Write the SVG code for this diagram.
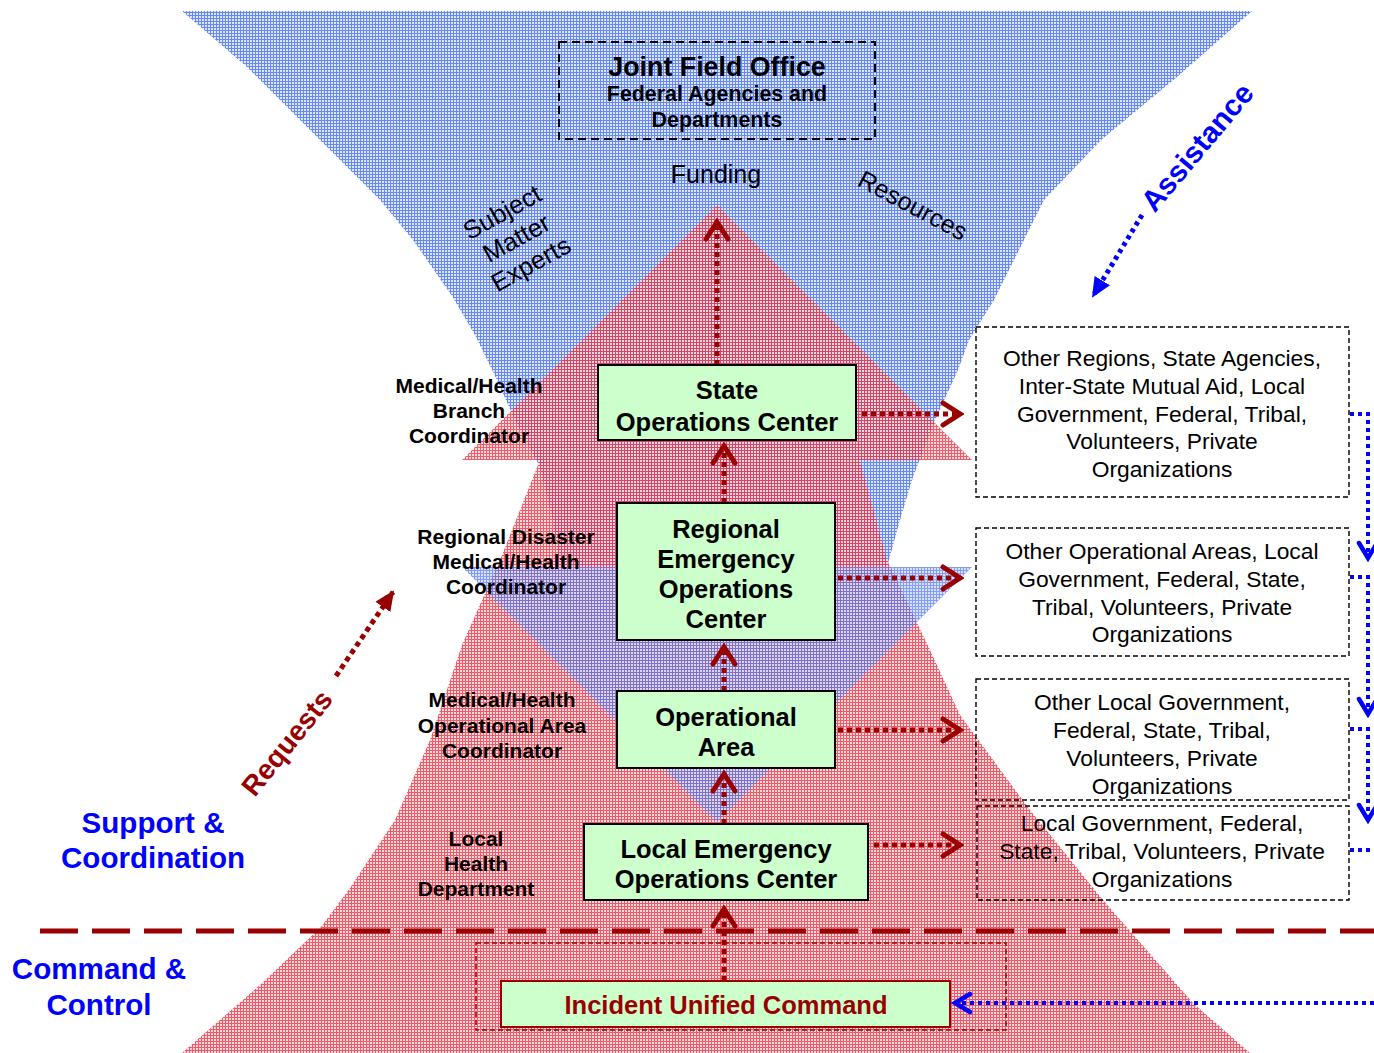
<svg xmlns="http://www.w3.org/2000/svg" width="1374" height="1053" viewBox="0 0 1374 1053">
<defs>
<pattern id="pb" width="3" height="3" patternUnits="userSpaceOnUse"><rect width="3" height="3" fill="#dde6fd"/><path d="M0 0.5H3M0.5 0V3" stroke="#6688f4" stroke-width="1"/></pattern>
<pattern id="pr" width="3" height="3" patternUnits="userSpaceOnUse"><rect width="3" height="3" fill="#fcd4d8"/><path d="M0 0.5H3M0.5 0V3" stroke="#ee3444" stroke-width="1"/></pattern>
<pattern id="pb2" width="3" height="3" patternUnits="userSpaceOnUse"><rect width="3" height="3" fill="#c8d4fb"/><path d="M0 0.5H3M0.5 0V3" stroke="#5577ee" stroke-width="1"/></pattern>
<marker id="chevR" viewBox="-2 -14 26 28" refX="20" refY="0" markerWidth="26" markerHeight="28" orient="auto" markerUnits="userSpaceOnUse"><path d="M3 -11L20 0L3 11" fill="none" stroke="#990000" stroke-width="5" stroke-linecap="round" stroke-linejoin="miter"/></marker>
<marker id="chevB" viewBox="-2 -12 24 24" refX="18" refY="0" markerWidth="24" markerHeight="24" orient="auto" markerUnits="userSpaceOnUse"><path d="M3 -9L18 0L3 9" fill="none" stroke="#0000ff" stroke-width="4.5" stroke-linecap="round"/></marker>
<marker id="triR" viewBox="0 -10 20 20" refX="18" refY="0" markerWidth="20" markerHeight="20" orient="auto" markerUnits="userSpaceOnUse"><path d="M0 -9L20 0L0 9Z" fill="#990000"/></marker>
<marker id="triB" viewBox="0 -10 20 20" refX="18" refY="0" markerWidth="20" markerHeight="20" orient="auto" markerUnits="userSpaceOnUse"><path d="M0 -9L20 0L0 9Z" fill="#0000ff"/></marker>
</defs>
<style>
.node{fill:#ccffcc;stroke:#000;stroke-width:2}
.nt{font-family:"Liberation Sans",Arial,sans-serif;font-weight:bold;font-size:25.5px;text-anchor:middle;fill:#000}
.lab{font-family:"Liberation Sans",Arial,sans-serif;font-weight:bold;font-size:21px;text-anchor:middle;fill:#000}
.rb{fill:none;stroke:#000;stroke-width:1.4;stroke-dasharray:5 3}
.rt{font-family:"Liberation Sans",Arial,sans-serif;font-size:22.8px;text-anchor:middle;fill:#000}
.big{font-family:"Liberation Sans",Arial,sans-serif;font-weight:bold;font-size:29.6px;text-anchor:middle;fill:#0000ff}
.reg{font-family:"Liberation Sans",Arial,sans-serif;font-size:25px;text-anchor:middle;fill:#000}
.rd{fill:none;stroke:#990000;stroke-width:5;stroke-dasharray:5 4}
.bd{fill:none;stroke:#0000ff;stroke-width:4;stroke-dasharray:4 4}
</style>
<rect width="1374" height="1053" fill="#fff"/>
<g id="background">
<path d="M182 11L1252 11L1177 77L1101 140L1044 200L994 300L969 340L958 370L935 420L913 477L900 520L887 567L560 567L553 520L540 467L515 420L497 380L475 335L452 296L413 240L380 200L313 133L247 67Z" fill="url(#pb)"/>
<path d="M540 460L860 460L887 560L930 650L960 715L1030 810L1103 900L1193 1003L1250 1053L182 1053L260 985L321 927L350 888L395 820L430 740L462 645L500 560Z" fill="url(#pr)" opacity="0.82"/>
<path d="M717 205L972 460L462 460Z" fill="url(#pr)" opacity="0.8"/>
<path d="M462 567L972 567L717 822Z" fill="url(#pb2)" opacity="0.72"/>
</g>
<g id="separator"><path d="M40 931H1374" stroke="#990000" stroke-width="5" stroke-dasharray="38 14"/></g>
<g id="jfo">
<rect x="559" y="42" width="316" height="97" fill="none" stroke="#000" stroke-width="2" stroke-dasharray="8 5"/>
<text class="nt" x="717" y="76" style="font-size:26.8px">Joint Field Office</text>
<text class="nt" x="717" y="101" style="font-size:21.4px">Federal Agencies and</text>
<text class="nt" x="717" y="127" style="font-size:21.4px">Departments</text>
</g>
<g id="flow-labels">
<text class="reg" x="716" y="183">Funding</text>
<text class="reg" transform="translate(913,205) rotate(28)" dominant-baseline="central">Resources</text>
<text class="reg" transform="translate(502,212) rotate(-29)" dominant-baseline="central" style="font-size:25.5px"><tspan x="0" y="0">Subject</tspan><tspan x="0" y="29.5">Matter</tspan><tspan x="0" y="59">Experts</tspan></text>
<text class="big" transform="translate(287,743) rotate(-51)" dominant-baseline="central" style="fill:#990000;font-size:28px">Requests</text>
<text class="big" transform="translate(1197,147) rotate(-50)" dominant-baseline="central">Assistance</text>
<text class="big" x="153" y="833">Support &amp;</text>
<text class="big" x="153" y="868">Coordination</text>
<text class="big" x="99" y="979">Command &amp;</text>
<text class="big" x="99" y="1015">Control</text>
</g>
<g id="role-labels">
<text class="lab" x="469" y="393">Medical/Health</text>
<text class="lab" x="469" y="418">Branch</text>
<text class="lab" x="469" y="443">Coordinator</text>
<text class="lab" x="506" y="544">Regional Disaster</text>
<text class="lab" x="506" y="569">Medical/Health</text>
<text class="lab" x="506" y="594">Coordinator</text>
<text class="lab" x="502" y="707">Medical/Health</text>
<text class="lab" x="502" y="733">Operational Area</text>
<text class="lab" x="502" y="758">Coordinator</text>
<text class="lab" x="476" y="846">Local</text>
<text class="lab" x="476" y="871">Health</text>
<text class="lab" x="476" y="896">Department</text>
</g>
<g id="connectors">
<path class="rd" d="M724 981V909" marker-end="url(#chevR)"/>
<path class="rd" d="M724 824V774" marker-end="url(#chevR)"/>
<path class="rd" d="M724 691V647" marker-end="url(#chevR)"/>
<path class="rd" d="M724 503V446" marker-end="url(#chevR)"/>
<path class="rd" d="M717 365V222" marker-end="url(#chevR)"/>
<path class="rd" d="M862 414H960" marker-end="url(#chevR)"/>
<path class="rd" d="M838 578H960" marker-end="url(#chevR)"/>
<path class="rd" d="M838 730H960" marker-end="url(#chevR)"/>
<path class="rd" d="M874 845H960" marker-end="url(#chevR)"/>
<path class="rd" d="M336 676L393 592" marker-end="url(#triR)"/>
<path class="bd" d="M1142 215L1093 296" style="stroke-width:5" marker-end="url(#triB)"/>
<path class="bd" d="M1350 414H1368V558" marker-end="url(#chevB)"/>
<path class="bd" d="M1350 577H1368V714" marker-end="url(#chevB)"/>
<path class="bd" d="M1350 729H1368V820" marker-end="url(#chevB)"/>
<path class="bd" d="M1350 850H1374"/>
<path class="bd" d="M1374 1003H955" marker-end="url(#chevB)"/>
</g>
<g id="node-state">
<rect class="node" x="598" y="365" width="258" height="75"/>
<text class="nt" x="727" y="399">State</text>
<text class="nt" x="727" y="431">Operations Center</text>
</g>
<g id="node-regional">
<rect class="node" x="617" y="503" width="218" height="137"/>
<text class="nt" x="726" y="538">Regional</text>
<text class="nt" x="726" y="568">Emergency</text>
<text class="nt" x="726" y="598">Operations</text>
<text class="nt" x="726" y="628">Center</text>
</g>
<g id="node-oparea">
<rect class="node" x="617" y="691" width="218" height="77"/>
<text class="nt" x="726" y="726">Operational</text>
<text class="nt" x="726" y="756">Area</text>
</g>
<g id="node-local">
<rect class="node" x="584" y="824" width="284" height="76"/>
<text class="nt" x="726" y="858">Local Emergency</text>
<text class="nt" x="726" y="888">Operations Center</text>
</g>
<g id="node-incident">
<rect x="476" y="943" width="530" height="87" fill="none" stroke="#990000" stroke-width="1.5" stroke-dasharray="5 3"/>
<rect x="501" y="981" width="449" height="46" fill="#ccffcc" stroke="#990000" stroke-width="2"/>
<text class="nt" x="726" y="1014" style="fill:#990000">Incident Unified Command</text>
</g>
<g id="node-other-regions">
<rect class="rb" x="976" y="327" width="373" height="170"/>
<text class="rt" x="1162" y="366">Other Regions, State Agencies,</text>
<text class="rt" x="1162" y="394">Inter-State Mutual Aid, Local</text>
<text class="rt" x="1162" y="422">Government, Federal, Tribal,</text>
<text class="rt" x="1162" y="449">Volunteers, Private</text>
<text class="rt" x="1162" y="477">Organizations</text>
</g>
<g id="node-other-opareas">
<rect class="rb" x="976" y="528" width="373" height="128"/>
<text class="rt" x="1162" y="559">Other Operational Areas, Local</text>
<text class="rt" x="1162" y="587">Government, Federal, State,</text>
<text class="rt" x="1162" y="615">Tribal, Volunteers, Private</text>
<text class="rt" x="1162" y="642">Organizations</text>
</g>
<g id="node-other-local">
<rect class="rb" x="976" y="679" width="373" height="121"/>
<text class="rt" x="1162" y="710">Other Local Government,</text>
<text class="rt" x="1162" y="738">Federal, State, Tribal,</text>
<text class="rt" x="1162" y="766">Volunteers, Private</text>
<text class="rt" x="1162" y="794">Organizations</text>
</g>
<g id="node-local-gov">
<rect class="rb" x="977" y="806" width="372" height="94"/>
<text class="rt" x="1162" y="831">Local Government, Federal,</text>
<text class="rt" x="1162" y="859">State, Tribal, Volunteers, Private</text>
<text class="rt" x="1162" y="887">Organizations</text>
</g>
</svg>
